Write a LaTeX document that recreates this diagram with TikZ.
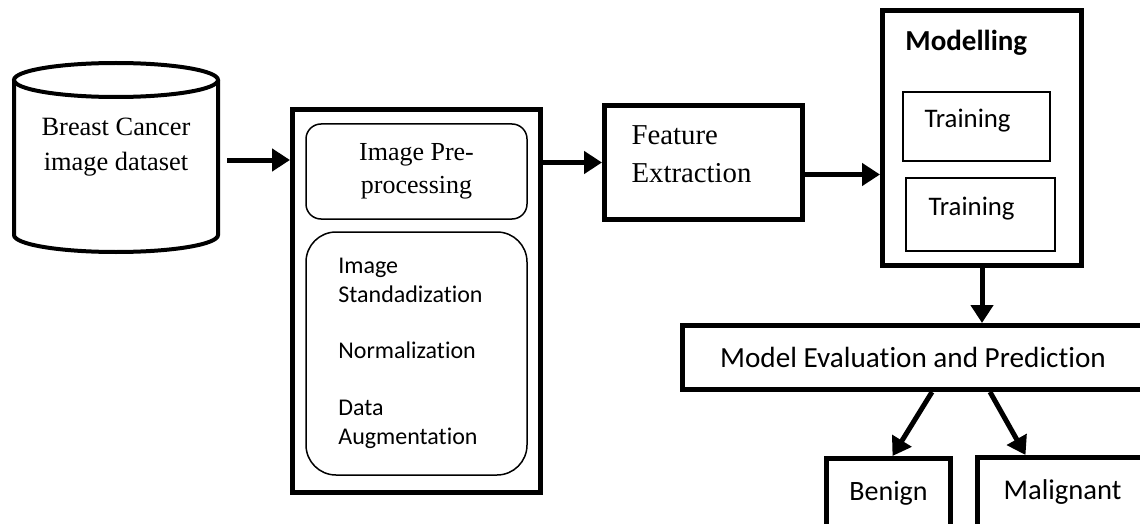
\documentclass[tikz,border=0pt]{standalone}
\usepackage{fontspec}
\setmainfont{Carlito}[Ligatures=NoCommon]
\newfontfamily\tnrfont{Liberation Serif}
\usetikzlibrary{arrows.meta}

\begin{document}
\begin{tikzpicture}[x=0.5pt, y=-0.5pt,
    heavybox/.style={draw, line width=2.5pt, inner sep=0pt},
    thinbox/.style={draw, line width=0.75pt, inner sep=0pt},
    flow/.style={line width=2.5pt, -{Triangle[length=9pt,width=11pt]}}]

  % page area, boxes on the right run off the edge
  \path[use as bounding box, clip] (0,0) rectangle (1140,524);

  % Draw dataset cylinder
  \draw[line width=2pt] (14,80) -- (14,235) arc[start angle=180, end angle=0, x radius=102, y radius=17] -- (218,80);
  \draw[line width=2pt] (116,80) ellipse[x radius=102, y radius=17];
  \node[font=\tnrfont\fontsize{13.2}{17.5}\selectfont, align=center] (data) at (116,147) {Breast Cancer\\image dataset};
  \coordinate (dbout) at (227,160);

  % Pre-processing block
  \node[heavybox, minimum width=124pt, minimum height=191.5pt] (prep) at (416.5,301) {};
  \node[thinbox, rounded corners=7.5pt, minimum width=110.5pt, minimum height=47.5pt,
        font=\tnrfont\fontsize{13}{16.5}\selectfont, align=center] (pretitle) at (416.5,171.5) {Image Pre-\\processing};
  \node[thinbox, rounded corners=15pt, minimum width=110.5pt, minimum height=121.5pt] (prebody) at (416.5,353.5) {};
  \node[anchor=west, inner sep=0pt, align=left, font=\fontsize{12}{14.5}\selectfont] (steps) at (338,353)
    {Image\\Standadization\\[13.5pt]Normalization\\[14pt]Data\\Augmentation};

  % Feature extraction
  \node[heavybox, minimum width=99pt, minimum height=57pt, text width=72pt, text depth=27pt, align=left,
        font=\tnrfont\fontsize{14.4}{19}\selectfont] (feat) at (703.5,162.5) {Feature\\Extraction};

  % Modelling block
  \node[heavybox, minimum width=99.5pt, minimum height=127.5pt] (model) at (982,138) {};
  \node[anchor=west, inner sep=0pt, font=\bfseries\fontsize{14.5}{17}\selectfont] (mtitle) at (905,43) {Modelling};
  \node[draw, line width=0.6pt, minimum width=73.5pt, minimum height=34.5pt, text width=52pt, text depth=8pt, align=left,
        font=\fontsize{13.4}{16}\selectfont] (train1) at (976.5,126.5) {Training};
  \node[draw, line width=0.6pt, minimum width=74.5pt, minimum height=36.5pt, text width=52pt, text depth=8.5pt, align=left,
        font=\fontsize{13.4}{16}\selectfont] (train2) at (980.5,214.5) {Training};

  % Evaluation and outcomes
  \node[heavybox, minimum width=230.5pt, minimum height=32pt, font=\fontsize{14.6}{17}\selectfont] (eval) at (913,357.5) {Model Evaluation and Prediction};
  \node[heavybox, minimum width=62pt, minimum height=34.5pt, font=\fontsize{14}{17}\selectfont] (benign) at (888.5,493) {Benign};
  \node[heavybox, minimum width=85pt, minimum height=35pt, font=\fontsize{14.3}{17}\selectfont] (malig) at (1062.5,492.5) {Malignant};

  % Draw arrows
  \draw[flow] (dbout) -- (dbout -| prep.west);
  \draw[flow] (prep.east |- feat.west) -- (feat.west);
  \draw[flow] ([yshift=-6pt]feat.east) -- ([yshift=-6pt]feat.east -| model.west);
  \draw[flow] (model.south) -- (model.south |- eval.north);
  \draw[flow] ([xshift=9.5pt]eval.south) -- ([xshift=2pt]benign.north);
  \draw[flow] ([xshift=38.5pt]eval.south) -- ([xshift=-18.5pt]malig.north);
\end{tikzpicture}
\end{document}
